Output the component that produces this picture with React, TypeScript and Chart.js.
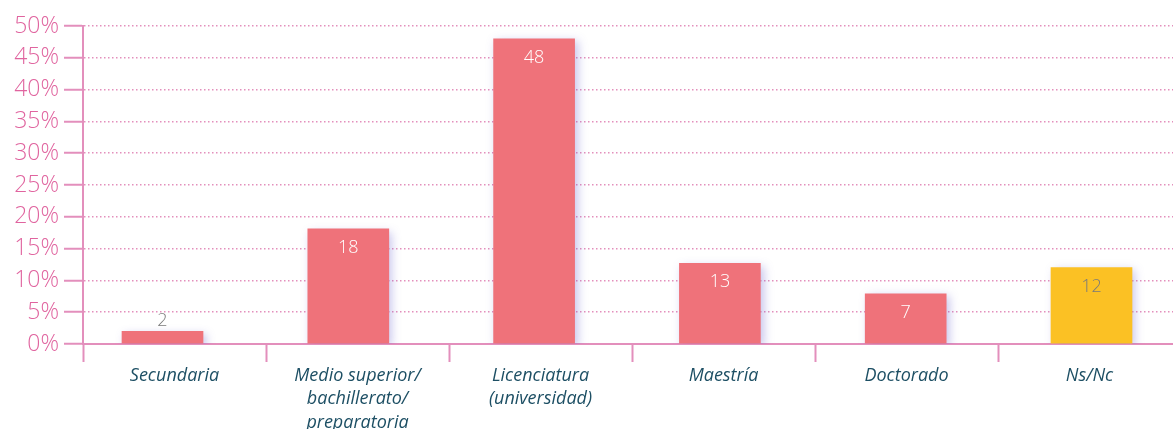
import React, { useEffect, useRef } from "react";
import { Chart, registerables } from "chart.js";

Chart.register(...registerables);

const categories: string[][] = [
  ["Secundaria"],
  ["Medio superior/", "bachillerato/", "preparatoria"],
  ["Licenciatura", "(universidad)"],
  ["Maestría"],
  ["Doctorado"],
  ["Ns/Nc"],
];
const values: number[] = [2, 18.1, 48, 12.7, 7.9, 12];
const valueLabels: string[] = ["2", "18", "48", "13", "7", "12"];
const labelInside: boolean[] = [false, true, true, true, true, true];
const labelColors: string[] = ["#7a7a7a", "#ffffff", "#ffffff", "#ffffff", "#ffffff", "#7a7a7a"];
const barColors: string[] = ["#EF727A", "#EF727A", "#EF727A", "#EF727A", "#EF727A", "#FBC124"];
const yTicks: number[] = [0, 5, 10, 15, 20, 25, 30, 35, 40, 45, 50];

const PINK = "#E38FBC";
const PINK_TEXT = "#E0649F";
const TEAL = "#1D4F64";

export default function App() {
  const ref = useRef<HTMLCanvasElement | null>(null);

  useEffect(() => {
    document.body.style.overflow = "hidden";
    const canvas = ref.current;
    if (!canvas) return;

    const shadowPlugin = {
      id: "barShadow",
      beforeDatasetsDraw(chart: any) {
        const ctx = chart.ctx;
        ctx.save();
        ctx.shadowColor = "rgba(95,85,200,0.35)";
        ctx.shadowBlur = 9;
        ctx.shadowOffsetX = 3;
        ctx.shadowOffsetY = 3;
      },
      afterDatasetsDraw(chart: any) {
        chart.ctx.restore();
      },
    };

    const labelPlugin = {
      id: "valueLabels",
      afterDraw(chart: any) {
        const ctx = chart.ctx;
        const meta = chart.getDatasetMeta(0);
        ctx.save();
        ctx.font = "300 18px 'Open Sans'";
        ctx.textAlign = "center";
        ctx.textBaseline = "middle";
        meta.data.forEach((bar: any, i: number) => {
          ctx.fillStyle = labelColors[i];
          const y = labelInside[i] ? bar.y + 19 : bar.y - 10;
          ctx.fillText(valueLabels[i], bar.x, y);
        });
        ctx.restore();
      },
    };

    const chart = new Chart(canvas, {
      type: "bar",
      data: {
        labels: categories as any,
        datasets: [
          {
            data: values.map((v, i) => ({ x: i, y: v })) as any,
            backgroundColor: barColors,
            barThickness: 81,
            xAxisID: "xb",
            yAxisID: "y",
          },
        ],
      },
      plugins: [shadowPlugin, labelPlugin],
      options: {
        animation: false,
        responsive: false,
        layout: { padding: { top: 26, left: 0, right: 0, bottom: 0 } },
        plugins: { legend: { display: false }, tooltip: { enabled: false } },
        scales: {
          xb: {
            type: "linear",
            display: false,
            offset: false,
            grace: 0,
            min: -0.4279,
            max: 5.4817,
          },
          x: {
            type: "category",
            labels: categories as any,
            position: "bottom",
            offset: true,
            grid: {
              offset: true,
              drawOnChartArea: false,
              drawTicks: true,
              tickLength: 18,
              tickColor: PINK,
              tickWidth: 2,
            },
            border: { display: true, color: PINK, width: 2 },
            ticks: {
              color: TEAL,
              font: { family: "'Open Sans'", size: 18, style: "italic", lineHeight: 1.3 },
              padding: 2,
              maxRotation: 0,
              autoSkip: false,
            },
            afterFit(scale: any) {
              scale.height = 85;
            },
          },
          y: {
            type: "linear",
            min: 0,
            max: 50,
            afterBuildTicks(scale: any) {
              scale.ticks = yTicks.map((v) => ({ value: v }));
            },
            grid: {
              color: PINK,
              lineWidth: 1.5,
              drawTicks: true,
              tickLength: 19,
              tickColor: PINK,
              tickWidth: 2,
              tickBorderDash: [],
            },
            border: { display: true, color: PINK, width: 2, dash: [1.5, 2.5] },
            ticks: {
              color: PINK_TEXT,
              font: { family: "'Open Sans'", size: 23, weight: 300 as any },
              padding: 5,
              callback: (v: any) => v + "%",
            },
            afterFit(scale: any) {
              scale.width = 83;
            },
          },
        },
      },
    });

    return () => chart.destroy();
  }, []);

  return (
    <canvas
      ref={ref}
      width={1181}
      height={429}
      style={{ position: "fixed", left: 0, top: 0, width: 1181, height: 429 }}
    />
  );
}
